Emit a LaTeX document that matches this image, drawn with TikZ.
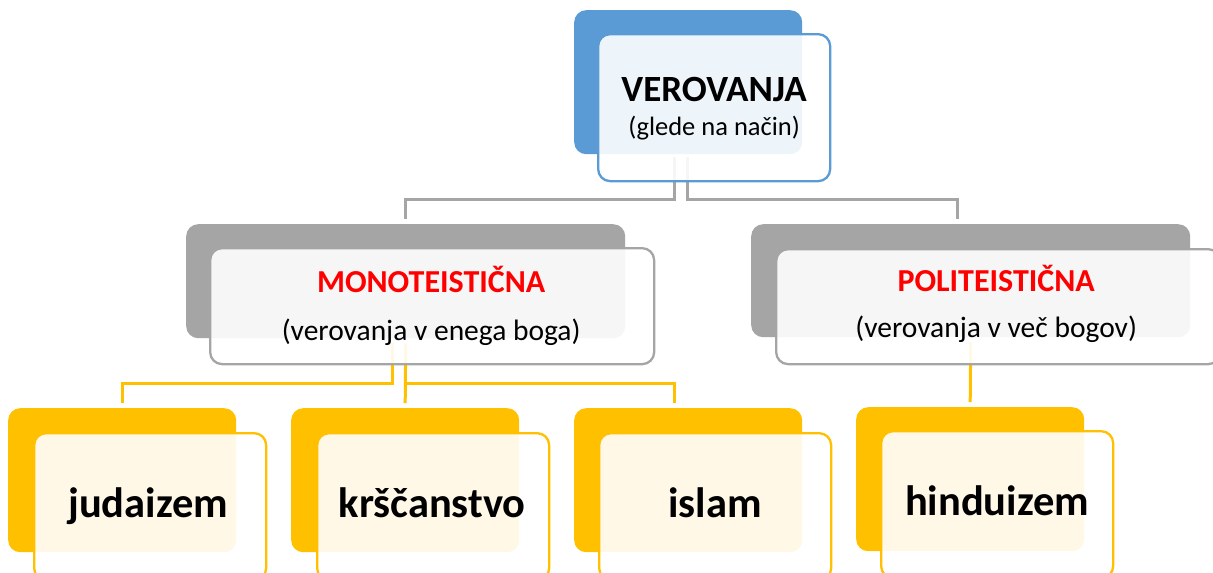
\documentclass[tikz,border=0pt]{standalone}
\usepackage{fontspec}
\setmainfont{Carlito}
\usetikzlibrary{calc}
\definecolor{cblue}{HTML}{5B9BD5}
\definecolor{cgray}{HTML}{A5A5A5}
\definecolor{cyel}{HTML}{FFC000}
\definecolor{cred}{HTML}{FF0000}
\tikzset{
  backbox/.style={rectangle, rounded corners=12pt, anchor=north west, inner sep=0pt, fill=#1},
  frontbox/.style={rectangle, rounded corners=12pt, anchor=north west, inner sep=0pt, draw=#1, line width=2.3pt, fill=white, fill opacity=0.9},
  topsize/.style={minimum width=228pt, minimum height=144pt},
  topfront/.style={minimum width=232pt, minimum height=147pt},
  midsize/.style={minimum width=439pt, minimum height=114pt},
  midfront/.style={minimum width=444pt, minimum height=116pt},
  conn/.style={line width=3pt, draw=#1},
  titletxt/.style={anchor=base, font=\fontsize{37}{42}\selectfont\bfseries},
  subtxt/.style={anchor=base, font=\fontsize{26.5}{30}\selectfont},
  headtxt/.style={anchor=base, text=cred, font=\fontsize{32}{36}\selectfont\bfseries},
  desctxt/.style={anchor=base, font=\fontsize{29.5}{34}\selectfont},
  leaftxt/.style={anchor=base, font=\fontsize{42.5}{48}\selectfont\bfseries},
}
\begin{document}
\begin{tikzpicture}[x=1pt, y=-1pt]
\useasboundingbox (0,0) rectangle (1213,573);
\clip (0,0) rectangle (1213,573);
\fill[white] (0,0) rectangle (1213,573);
% back boxes
\node[backbox=cblue, topsize] (vB) at (574,10) {};
\node[backbox=cgray, midsize] (mB) at (186,224) {};
\node[backbox=cgray, midsize, minimum height=113pt] (pB) at (751,224) {};
\node[backbox=cyel, topsize] (jB) at (8,408) {};
\node[backbox=cyel, topsize] (kB) at (291,408) {};
\node[backbox=cyel, topsize] (iB) at (574,408) {};
\node[backbox=cyel, topsize] (hB) at (856,407) {};
% connectors
\draw[conn=cgray] ($(vB.south)+(-14,3)$) |- ($(mB.north)+(0,-25)$) -- ($(mB.north)+(0,-5)$);
\draw[conn=cgray] ($(vB.south)+(-1,3)$) |- ($(pB.north)+(-13,-25)$) -- ($(pB.north)+(-13,-5)$);
\draw[conn=cyel] ($(mB.south)+(-13,5)$) |- ($(jB.north)+(0,-25)$) -- ($(jB.north)+(0,-5)$);
\draw[conn=cyel] ($(mB.south)+(0,5)$) -- ($(kB.north)+(0,-5)$);
\draw[conn=cyel] ($(mB.south)+(0,45)$) -| ($(iB.north)+(-14,-5)$);
\draw[conn=cyel] ($(pB.south)+(0,5)$) -- ($(hB.north)+(0,-5)$);
% front boxes
\node[frontbox=cblue, topfront] (vF) at (597,33) {};
\node[frontbox=cgray, midfront] (mF) at (209,247) {};
\node[frontbox=cgray, midfront, minimum height=115pt] (pF) at (775,248) {};
\node[frontbox=cyel, topfront] (jF) at (33,432) {};
\node[frontbox=cyel, topfront] (kF) at (316,432) {};
\node[frontbox=cyel, topfront] (iF) at (598,432) {};
\node[frontbox=cyel, topfront] (hF) at (880,430) {};
% texts
\node[titletxt] (vT) at ($(vF.north)+(0,68)$) {VEROVANJA};
\node[subtxt] (vS) at ($(vF.north)+(0,102)$) {(glede na način)};
\node[headtxt] (mT) at ($(mF.north)+(-1,45)$) {MONOTEISTIČNA};
\node[desctxt] (mS) at ($(mF.north)+(-1,93)$) {(verovanja v enega boga)};
\node[headtxt] (pT) at ($(pF.north)+(-2,43)$) {POLITEISTIČNA};
\node[desctxt] (pS) at ($(pF.north)+(-2,89)$) {(verovanja v več bogov)};
\node[leaftxt] (jT) at ($(jF.north)+(-2,85)$) {judaizem};
\node[leaftxt] (kT) at ($(kF.north)+(-1,85)$) {krščanstvo};
\node[leaftxt] (iT) at ($(iF.north)+(0,85)$) {islam};
\node[leaftxt] (hT) at ($(hF.north)+(0,85)$) {hinduizem};
\end{tikzpicture}
\end{document}
